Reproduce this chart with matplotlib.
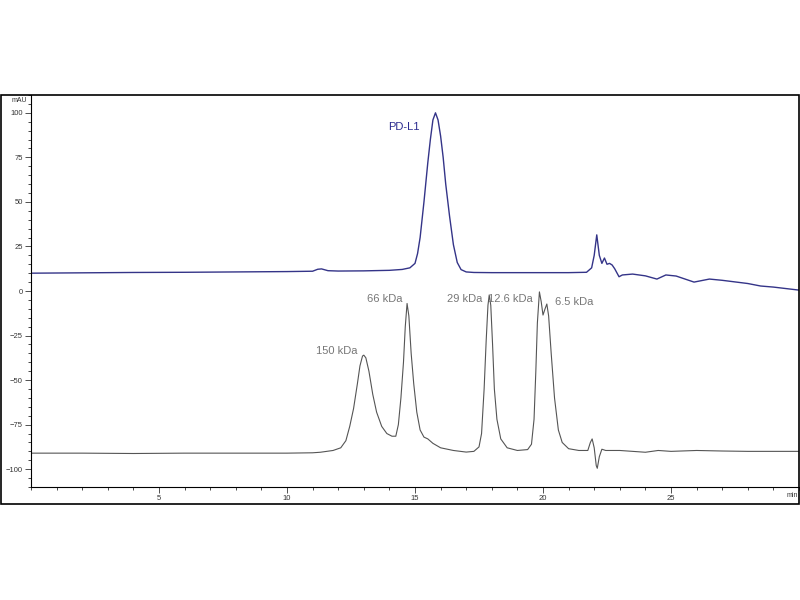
import matplotlib
matplotlib.use("Agg")
import matplotlib.pyplot as plt
from matplotlib.patches import Rectangle
from matplotlib.ticker import MultipleLocator

# PD-L1 trace (minutes, mAU)
pdl1_t = [0, 2, 4, 6, 8, 10, 11.0, 11.2, 11.35, 11.6, 12, 13, 14, 14.5, 14.8,
          15.0, 15.1, 15.2, 15.35, 15.5, 15.6, 15.7, 15.8, 15.9, 16.0, 16.1, 16.2,
          16.35, 16.5, 16.65, 16.8, 17.0, 17.3, 18, 20, 21, 21.7, 21.9, 22.0, 22.1,
          22.2, 22.3, 22.4, 22.5, 22.6, 22.7, 22.8, 22.97, 23.1, 23.5, 24.0,
          24.45, 24.8, 25.2, 25.9, 26.5, 27.0, 28.0, 28.5, 29.0, 30.0]
pdl1_v = [10, 10.2, 10.4, 10.5, 10.7, 10.9, 11.1, 12.2, 12.4, 11.4, 11.2, 11.3, 11.6, 12.1, 13,
          15.5, 21, 30, 50, 72, 85, 96, 100, 96, 87, 75, 60,
          42, 26, 16, 12, 10.7, 10.4, 10.3, 10.3, 10.3, 10.5, 13, 20, 31.5,
          20, 15.5, 18.5, 15, 15.5, 14.6, 12.5, 8, 9, 9.5, 8.5,
          6.7, 9, 8.4, 5, 6.7, 6, 4.2, 2.8, 2.2, 0.5]

# protein standards trace
std_t = [0, 2, 4, 6, 8, 10, 11.0, 11.3, 11.8, 12.1, 12.3, 12.45, 12.6, 12.75, 12.85,
         12.95, 13.0, 13.08, 13.2, 13.35, 13.5, 13.7, 13.9, 14.1, 14.25,
         14.35, 14.45, 14.55, 14.62, 14.69, 14.76, 14.85, 14.95, 15.07, 15.2, 15.35,
         15.5, 15.7, 16.0, 16.5, 17.0, 17.3, 17.5,
         17.6, 17.7, 17.78, 17.85, 17.9, 17.96, 18.03, 18.1, 18.2, 18.35, 18.6,
         19.0, 19.4, 19.55,
         19.65, 19.72, 19.78, 19.86, 19.93, 20.0, 20.08, 20.15, 20.22, 20.32, 20.45,
         20.6, 20.75, 21.0, 21.4, 21.75, 21.85, 21.92, 22.0, 22.08, 22.12, 22.2,
         22.3, 22.45, 23, 24, 24.5, 25, 26, 27, 28, 29, 30]
std_v = [-91, -91, -91.2, -91, -91, -91, -90.8, -90.5, -89.5, -88, -84, -76, -66, -52, -42,
         -36.5, -36, -37.5, -45, -58, -68, -76, -80, -81.5, -81.5,
         -75, -60, -40, -20, -7, -14, -35, -52, -68, -78, -82,
         -83, -85.5, -88, -89.5, -90.4, -90, -87.5,
         -80, -55, -28, -8, -2.2, -8, -30, -55, -72, -83, -88,
         -89.5, -89, -86,
         -72, -45, -18, -0.5, -6, -13.5, -10, -7.3, -14, -35, -60,
         -78, -85, -88.5, -89.5, -89.5, -85, -83, -88, -98, -99.5, -93,
         -88.8, -89.5, -89.5, -90.5, -89.5, -90, -89.5, -89.8, -90, -90, -90]

std_labels = ["150 kDa", "66 kDa", "29 kDa", "12.6 kDa", "6.5 kDa"]
std_label_x = [12.77, 14.53, 17.62, 19.6, 20.47]
std_label_y = [-33.7, -4.5, -4.5, -4.5, -6.2]
std_label_ha = ["right", "right", "right", "right", "left"]

fig = plt.figure(figsize=(8, 6), dpi=100)
ax = fig.add_axes([31 / 800, 113 / 600, 768 / 800, 392 / 600])

ax.plot(pdl1_t, pdl1_v, color="#343488", lw=1.0)
ax.plot(std_t, std_v, color="#555555", lw=0.8)

fnt = ["Liberation Sans", "DejaVu Sans"]
ax.text(15.2, 92, "PD-L1", color="#2b2b8f", fontsize=8, ha="right", va="center", family=fnt)
for lab, x, y, ha in zip(std_labels, std_label_x, std_label_y, std_label_ha):
    ax.text(x, y, lab, color="#777777", fontsize=8, ha=ha, va="center", family=fnt)

ax.set_xlim(0, 30)
ax.set_ylim(-110, 110)
ax.set_xticks([5, 10, 15, 20, 25])
ax.xaxis.set_minor_locator(MultipleLocator(1))
ax.yaxis.set_major_locator(MultipleLocator(25))
ax.yaxis.set_minor_locator(MultipleLocator(5))
ax.tick_params(labelsize=5.5, colors="#333333", length=4, width=0.6, pad=2)
ax.tick_params(which="minor", length=2, width=0.5)
for lab in ax.get_xticklabels() + ax.get_yticklabels():
    lab.set_family(fnt)
ax.spines["top"].set_visible(False)
ax.spines["right"].set_visible(False)
for s in ["left", "bottom"]:
    ax.spines[s].set_linewidth(0.8)

ax.text(-0.005, 0.995, "mAU", transform=ax.transAxes, fontsize=5, ha="right", va="top",
        color="#333333", family=fnt)
ax.text(0.999, -0.012, "min", transform=ax.transAxes, fontsize=5, ha="right", va="top",
        color="#333333", family=fnt)

# outer frame around the plot
fig.patches.append(Rectangle((1 / 800, 96 / 600), 798 / 800, 409 / 600, transform=fig.transFigure,
                             fill=False, edgecolor="black", lw=1.2))

fig.savefig("out.png", dpi=100)
